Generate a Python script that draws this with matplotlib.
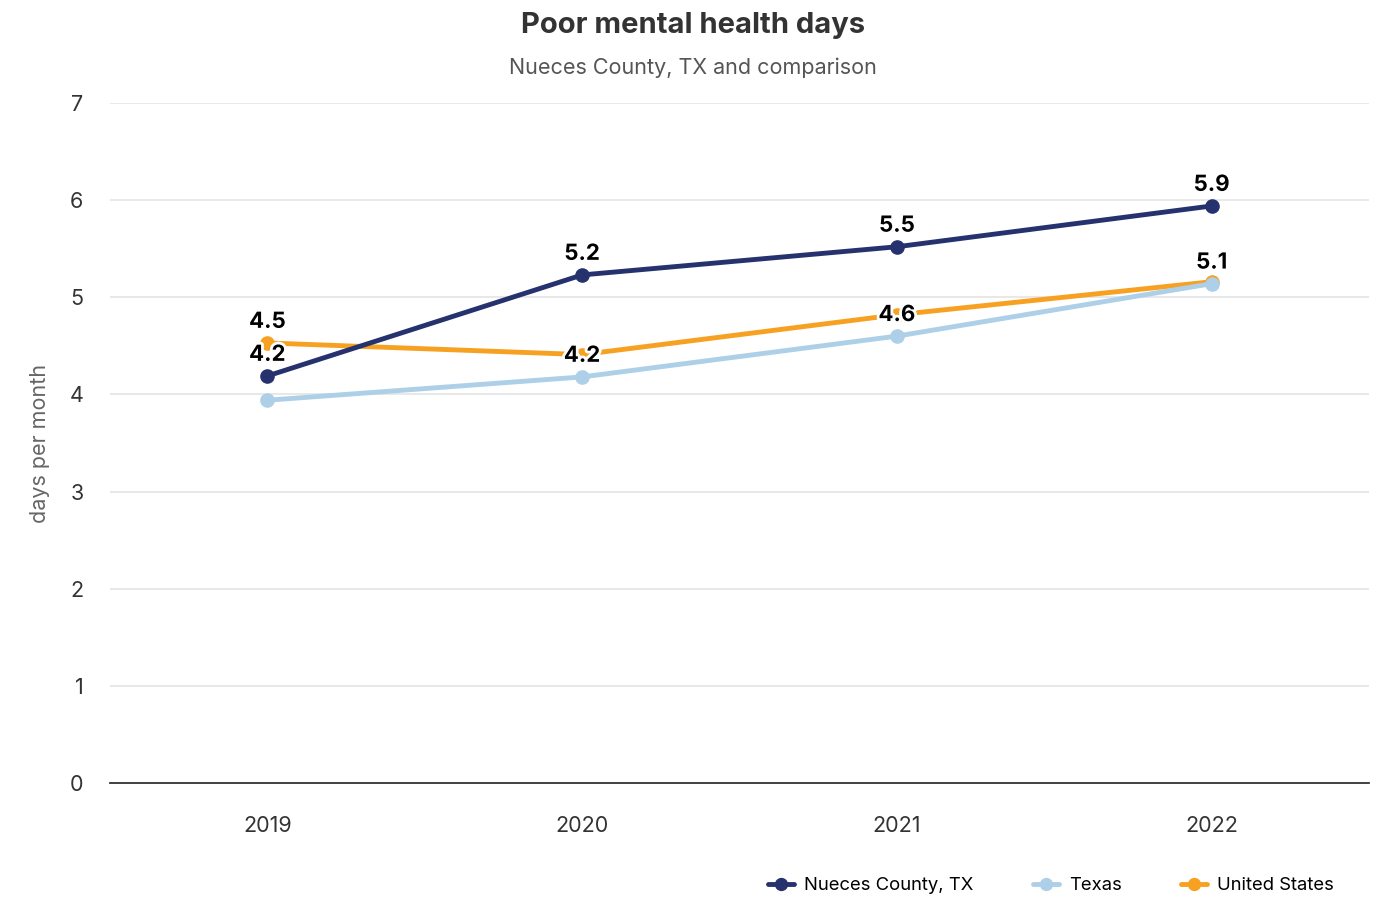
import matplotlib.pyplot as plt
import matplotlib.patheffects as pe

years = ['2019', '2020', '2021', '2022']
nueces = [4.19, 5.23, 5.52, 5.94]
texas = [3.94, 4.18, 4.60, 5.14]
usa = [4.53, 4.41, 4.82, 5.16]

# which points get a value label (the rest would overlap)
nueces_lab = [True, True, True, True]
texas_lab = [False, True, True, True]
usa_lab = [True, False, False, False]

plt.rcParams['font.family'] = ['Inter', 'DejaVu Sans']

fig = plt.figure(figsize=(13.89, 8.98), dpi=100)
ax = fig.add_axes([0.0792, 0.1281, 0.9064, 0.7572])

x = list(range(len(years)))
series = [
    ('Nueces County, TX', nueces, '#26326e', 4, nueces_lab),
    ('Texas', texas, '#aecfe8', 3, texas_lab),
    ('United States', usa, '#f7a122', 2, usa_lab),
]

halo = [pe.withStroke(linewidth=4, foreground='white')]
for name, vals, col, z, lab in series:
    ax.plot(x, vals, color=col, lw=3.5, marker='o', ms=9.5, zorder=z, label=name,
            solid_capstyle='round')
    for xi, v, show in zip(x, vals, lab):
        if show:
            ax.annotate(f'{v:.1f}', (xi, v), xytext=(0, 8), textcoords='offset points',
                        ha='center', va='bottom', fontsize=16, fontweight='bold',
                        color='black', path_effects=halo, zorder=10)

ax.set_xlim(-0.5, 3.5)
ax.set_ylim(0, 7)
ax.set_xticks(x)
ax.set_xticklabels(years)
ax.set_yticks(range(8))
ax.tick_params(length=0, labelsize=15.5, labelcolor='#333333')
ax.tick_params(axis='x', pad=24)
ax.tick_params(axis='y', pad=19)
ax.grid(axis='y', color='#e6e6e6', lw=1.3)
ax.set_axisbelow(True)
for s in ['top', 'right', 'left']:
    ax.spines[s].set_visible(False)
ax.spines['bottom'].set_color('#333333')
ax.spines['bottom'].set_linewidth(1.3)
ax.set_ylabel('days per month', fontsize=15.5, color='#666666', labelpad=14)

fig.text(0.499, 0.972, 'Poor mental health days', ha='center', va='center',
         fontsize=21, fontweight='bold', color='#333333')
fig.text(0.499, 0.924, 'Nueces County, TX and comparison', ha='center', va='center',
         fontsize=15.5, color='#555555')

fig.legend(loc='center right', bbox_to_anchor=(0.972, 0.0135), ncol=3, frameon=False,
           fontsize=13.3, handlelength=1.4, columnspacing=3.2, handletextpad=0.55,
           markerscale=0.9)

plt.savefig('out.png', dpi=100)
